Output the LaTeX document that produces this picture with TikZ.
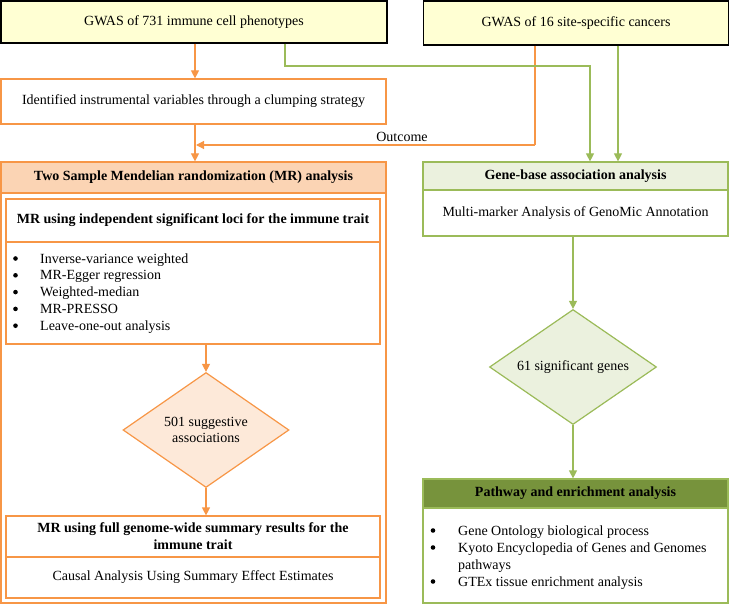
\documentclass[tikz,border=0pt]{standalone}
\usepackage{fontspec}
\setmainfont{Liberation Serif}
\usetikzlibrary{shapes.geometric,arrows.meta}
\definecolor{orl}{HTML}{F79646}
\definecolor{orfill}{HTML}{FBD4B4}
\definecolor{orlight}{HTML}{FDE9D9}
\definecolor{grl}{HTML}{9BBB59}
\definecolor{grfill}{HTML}{EBF1DE}
\definecolor{grdark}{HTML}{77933C}
\definecolor{yel}{HTML}{FFFFD3}
\tikzset{
  box/.style={rectangle,inner sep=0pt,align=center},
  ybox/.style={box,draw=black,line width=1.3pt,fill=yel},
  obox/.style={box,draw=orl,line width=1.2pt},
  gbox/.style={box,draw=grl,line width=1.2pt},
  oarr/.style={draw=orl,line width=1.2pt,-{Triangle[length=8pt,width=8pt]}},
  garr/.style={draw=grl,line width=1.2pt,-{Triangle[length=8pt,width=8pt]}},
  oline/.style={draw=orl,line width=1.2pt},
  gline/.style={draw=grl,line width=1.2pt},
  dia/.style={diamond,inner sep=0pt,align=center,line width=1.2pt},
}
\begin{document}
\begin{tikzpicture}[x=1pt,y=-1pt,font=\fontsize{14}{16.8}\selectfont]
\useasboundingbox (0,0) rectangle (730,604);
% top boxes
\node[ybox,minimum width=386pt,minimum height=42pt] (g1) at (194,22) {GWAS of 731 immune cell phenotypes};
\node[ybox,minimum width=305pt,minimum height=44pt] (g2) at (576,23) {GWAS of 16 site-specific cancers};
\node[obox,minimum width=385pt,minimum height=45pt] (iv) at (193.5,101.5) {Identified instrumental variables through a clumping strategy};
% two sample outer
\node[obox,minimum width=385pt,minimum height=440pt] (ts) at (193.5,383) {};
\node[obox,fill=orfill,minimum width=385pt,minimum height=31pt,font=\fontsize{14}{16.8}\selectfont\bfseries] (tsh) at (193.5,177.5) {Two Sample Mendelian randomization (MR) analysis};
\node[obox,minimum width=374pt,minimum height=43pt,font=\fontsize{14}{16.8}\selectfont\bfseries] (m1h) at (193,220.5) {MR using independent significant loci for the immune trait};
\node[obox,minimum width=374pt,minimum height=102pt] (m1b) at (193,293) {};
\foreach \t [count=\i] in {Inverse-variance weighted,MR-Egger regression,Weighted-median,MR-PRESSO,Leave-one-out analysis}{
  \node[anchor=base west,inner sep=0pt] (b\i) at (40,{263+16.8*(\i-1)}) {\t};
  \fill (15.5,{258.5+16.8*(\i-1)}) circle (2.3pt);
}
\node[dia,draw=orl,fill=orlight,minimum width=166pt,minimum height=115pt] (d1) at (206,430) {};
\node[align=center] at (206,430) {501 suggestive\\associations};
\node[obox,minimum width=374pt,minimum height=41pt,font=\fontsize{14}{16.8}\selectfont\bfseries] (m2h) at (193,536.5) {MR using full genome-wide summary results for the\\immune trait};
\node[obox,minimum width=374pt,minimum height=41pt] (m2b) at (193,577.5) {Causal Analysis Using Summary Effect Estimates};
% right column
\node[gbox,fill=grfill,minimum width=305pt,minimum height=28pt,font=\fontsize{14}{16.8}\selectfont\bfseries] (gbh) at (575.5,176) {Gene-base association analysis};
\node[gbox,minimum width=305pt,minimum height=46pt] (gbb) at (575.5,213) {Multi-marker Analysis of GenoMic Annotation};
\node[dia,draw=grl,fill=grfill,minimum width=167pt,minimum height=115pt] (d2) at (573,367) {};
\node at (573,367) {61 significant genes};
\node[gbox,fill=grdark,minimum width=305pt,minimum height=29pt,font=\fontsize{14}{16.8}\selectfont\bfseries] (pwh) at (575.5,493.5) {Pathway and enrichment analysis};
\node[gbox,minimum width=305pt,minimum height=95pt] (pwb) at (575.5,555.5) {};
\foreach \t/\yy [count=\i] in {Gene Ontology biological process/535,Kyoto Encyclopedia of Genes and Genomes/552,pathways/569,GTEx tissue enrichment analysis/586}{
  \node[anchor=base west,inner sep=0pt] (p\i) at (458,\yy) {\t};
}
\foreach \yy in {530.5,547.5,581.5}{\fill (433,\yy) circle (2.3pt);}
% connectors
\coordinate (a1) at (195,79);
\draw[oarr] (g1.south -| a1) -- (iv.north -| a1);
\draw[oarr] (iv.south -| a1) -- (tsh.north -| a1);
\coordinate (oc) at (535,145);
\draw[oline] (g2.south -| oc) -- (oc);
\draw[oarr] (oc) -- (196,145);
\node[anchor=base,inner sep=0pt] (out) at (402,142) {Outcome};
\coordinate (c1) at (285,66);
\coordinate (c2) at (590,66);
\draw[garr] (g1.south -| c1) -- (c1) -- (c2) -- (gbh.north -| c2);
\coordinate (c3) at (618,100);
\draw[garr] (g2.south -| c3) -- (gbh.north -| c3);
\draw[oarr] (m1b.south -| d1) -- (d1.north);
\draw[oarr] (d1.south) -- (m2h.north -| d1);
\draw[garr] (gbb.south -| d2) -- (d2.north);
\draw[garr] (d2.south) -- (pwh.north -| d2);
\end{tikzpicture}
\end{document}
